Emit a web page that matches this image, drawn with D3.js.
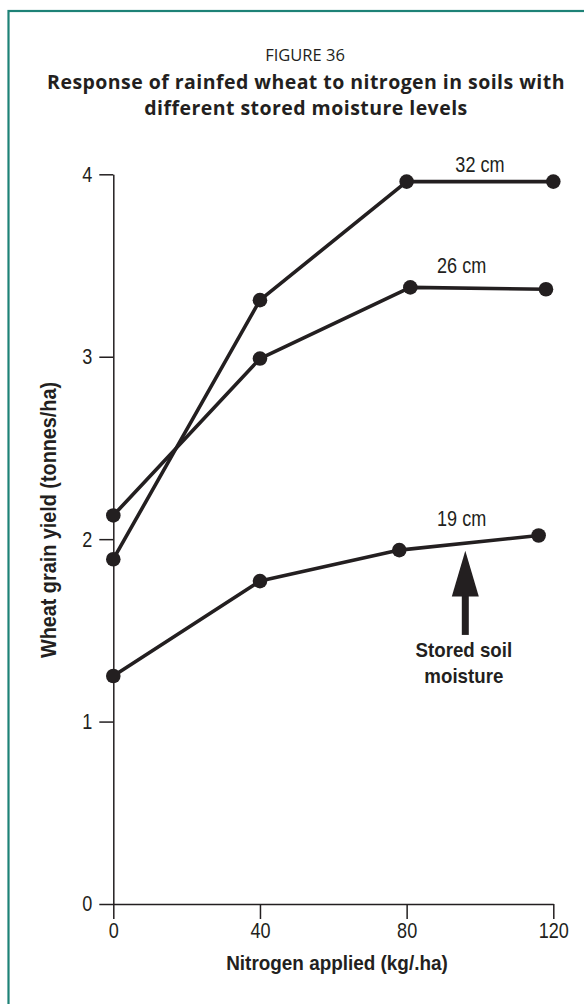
<!DOCTYPE html>
<html>
<head>
<meta charset="utf-8">
<script src="https://cdn.jsdelivr.net/npm/d3@7"></script>
<style>
  body { margin: 0; background: #fff; }
  svg { display: block; }
</style>
</head>
<body>
<div id="chart"></div>
<script>
// values
var seriesNames = ["32 cm", "26 cm", "19 cm"];
var nitrogen32 = [0, 40, 80, 120];
var yield32 = [1.89, 3.31, 3.96, 3.96];
var nitrogen26 = [0, 40, 81, 118];
var yield26 = [2.13, 2.99, 3.38, 3.37];
var nitrogen19 = [0, 40, 78, 116];
var yield19 = [1.25, 1.77, 1.94, 2.02];
var xTicks = [0, 40, 80, 120];
var yTicks = [0, 1, 2, 3, 4];

var svgWidth = 584;
var svgHeight = 1004;
var margin = { top: 174.3, left: 113.3 };
var width = 440;
var height = 729.7;

var ink = "#231f20";
var sans = "'Liberation Sans', Arial, sans-serif";

// no narrow font installed, so squeeze the glyphs sideways
function squeeze(sel, k) {
  sel.each(function() {
    var w = this.getComputedTextLength();
    d3.select(this)
      .attr("textLength", w * k)
      .attr("lengthAdjust", "spacingAndGlyphs");
  });
}

var svg = d3.select("#chart")
  .append("svg")
  .attr("width", svgWidth)
  .attr("height", svgHeight);

// teal frame, cut off at right and bottom
svg.append("rect")
  .attr("x", 8.5)
  .attr("y", 11)
  .attr("width", 700)
  .attr("height", 1100)
  .attr("fill", "none")
  .attr("stroke", "#1e8277")
  .attr("stroke-width", 2.2);

// titles
svg.append("text")
  .attr("x", 305)
  .attr("y", 60.5)
  .attr("text-anchor", "middle")
  .attr("font-family", "'Open Sans', sans-serif")
  .attr("font-size", 16.5)
  .attr("fill", ink)
  .text("FIGURE 36");

svg.append("text")
  .attr("x", 306)
  .attr("y", 89)
  .attr("text-anchor", "middle")
  .attr("font-family", "'Open Sans', sans-serif")
  .attr("font-weight", "bold")
  .attr("font-size", 19.5)
  .attr("letter-spacing", 0.45)
  .attr("fill", ink)
  .text("Response of rainfed wheat to nitrogen in soils with");

svg.append("text")
  .attr("x", 306)
  .attr("y", 115)
  .attr("text-anchor", "middle")
  .attr("font-family", "'Open Sans', sans-serif")
  .attr("font-weight", "bold")
  .attr("font-size", 19.5)
  .attr("letter-spacing", 0.45)
  .attr("fill", ink)
  .text("different stored moisture levels");

var chartGroup = svg.append("g")
  .attr("transform", `translate(${margin.left}, ${margin.top})`);

var xLinearScale = d3.scaleLinear().domain([0, 120]).range([0, width]);
var yLinearScale = d3.scaleLinear().domain([0, 4]).range([height, 0]);

var xAxis = d3.axisBottom(xLinearScale)
  .tickValues(xTicks)
  .tickFormat(d3.format("d"))
  .tickSize(15)
  .tickSizeOuter(0)
  .tickPadding(4);
var yAxis = d3.axisLeft(yLinearScale)
  .tickValues(yTicks)
  .tickFormat(d3.format("d"))
  .tickSize(14)
  .tickSizeOuter(0)
  .tickPadding(7);

var xg = chartGroup.append("g")
  .attr("transform", `translate(0, ${height})`)
  .call(xAxis);
var yg = chartGroup.append("g")
  .call(yAxis);

[xg, yg].forEach(function(g) {
  g.selectAll("path, line")
    .attr("stroke", ink)
    .attr("stroke-width", 1.5);
  g.selectAll("text")
    .attr("fill", ink)
    .attr("font-family", sans)
    .attr("font-size", 21.5)
    .call(squeeze, 0.84);
});

// axis titles
svg.append("text")
  .attr("transform", "translate(56, 520) rotate(-90)")
  .attr("text-anchor", "middle")
  .attr("font-family", sans)
  .attr("font-weight", "bold")
  .attr("font-size", 22)
  .attr("fill", ink)
  .text("Wheat grain yield (tonnes/ha)")
  .call(squeeze, 0.9);

svg.append("text")
  .attr("x", 337)
  .attr("y", 970)
  .attr("text-anchor", "middle")
  .attr("font-family", sans)
  .attr("font-weight", "bold")
  .attr("font-size", 21)
  .attr("fill", ink)
  .text("Nitrogen applied (kg/.ha)")
  .call(squeeze, 0.9);

// build series
var series = [
  { name: seriesNames[0], xs: nitrogen32, ys: yield32 },
  { name: seriesNames[1], xs: nitrogen26, ys: yield26 },
  { name: seriesNames[2], xs: nitrogen19, ys: yield19 }
].map(function(s) {
  return { name: s.name, points: s.xs.map((x, i) => ({ x: x, y: s.ys[i] })) };
});

var line = d3.line()
  .x(d => xLinearScale(d.x))
  .y(d => yLinearScale(d.y));

chartGroup.selectAll(".series")
  .data(series)
  .enter()
  .append("path")
  .attr("class", "series")
  .attr("d", d => line(d.points))
  .attr("fill", "none")
  .attr("stroke", ink)
  .attr("stroke-width", 3.6)
  .attr("stroke-linejoin", "round");

chartGroup.selectAll(".dots")
  .data(series)
  .enter()
  .append("g")
  .selectAll("circle")
  .data(d => d.points)
  .enter()
  .append("circle")
  .attr("cx", d => xLinearScale(d.x))
  .attr("cy", d => yLinearScale(d.y))
  .attr("r", 7.3)
  .attr("fill", ink);

// series labels, placed in data units
var labelSpots = [
  { x: 100.0, y: 4.01 },
  { x: 95.0, y: 3.46 },
  { x: 95.0, y: 2.07 }
];
chartGroup.selectAll(".lbl")
  .data(series)
  .enter()
  .append("text")
  .attr("class", "lbl")
  .attr("x", (d, i) => xLinearScale(labelSpots[i].x))
  .attr("y", (d, i) => yLinearScale(labelSpots[i].y))
  .attr("text-anchor", "middle")
  .attr("font-family", sans)
  .attr("font-size", 21.5)
  .attr("fill", ink)
  .text(d => d.name)
  .call(squeeze, 0.84);

// "stored soil moisture" arrow
var ax = xLinearScale(96);
var tipY = yLinearScale(1.937);
var baseY = yLinearScale(1.685);
var tailY = yLinearScale(1.475);
chartGroup.append("line")
  .attr("x1", ax).attr("x2", ax)
  .attr("y1", baseY - 2).attr("y2", tailY)
  .attr("stroke", ink)
  .attr("stroke-width", 7);
chartGroup.append("path")
  .attr("d", `M${ax},${tipY} L${ax - 13.5},${baseY} L${ax + 13.5},${baseY} Z`)
  .attr("fill", ink);

var note = chartGroup.append("text")
  .attr("text-anchor", "middle")
  .attr("font-family", sans)
  .attr("font-weight", "bold")
  .attr("font-size", 21)
  .attr("fill", ink);
note.append("tspan")
  .attr("x", xLinearScale(95.6))
  .attr("y", 656.7 - margin.top)
  .text("Stored soil")
  .call(squeeze, 0.89);
note.append("tspan")
  .attr("x", xLinearScale(95.6))
  .attr("y", 683 - margin.top)
  .text("moisture")
  .call(squeeze, 0.89);
</script>
</body>
</html>
